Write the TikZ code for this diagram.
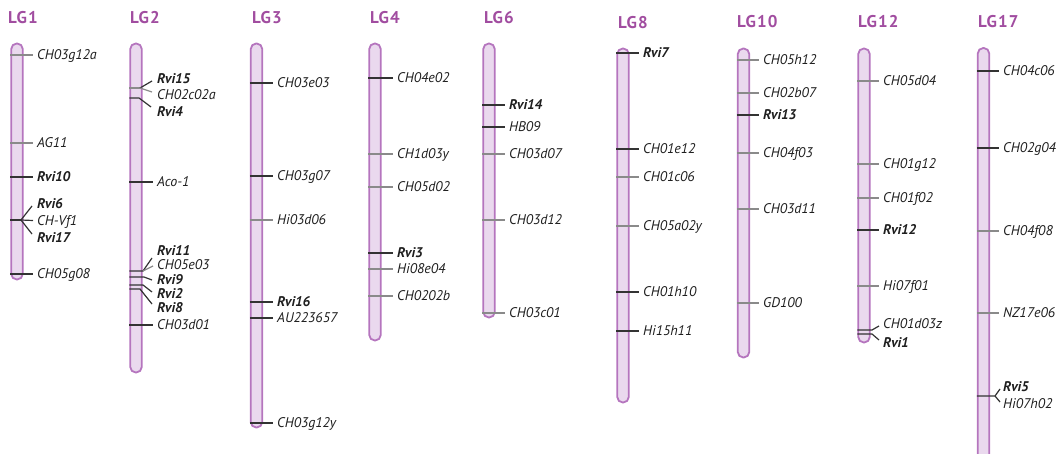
\documentclass[tikz,border=0pt]{standalone}
\usepackage{fontspec}
\setmainfont{PT Sans}
\definecolor{lgpurple}{HTML}{A14DA0}
\definecolor{barfill}{HTML}{EAD9EE}
\definecolor{baredge}{HTML}{B575BE}
\definecolor{tickdark}{HTML}{333333}
\definecolor{ticklight}{HTML}{8A8A8A}
\definecolor{labtext}{HTML}{1E1E1E}
\tikzset{
  lgtitle/.style={font=\fontsize{17}{17}\selectfont\bfseries\addfontfeature{LetterSpace=7},
    text=lgpurple, anchor=west, inner sep=0pt, text height=12pt, text depth=0pt},
  chrom/.style={draw=baredge, line width=1.8pt, fill=barfill, rounded corners=5.5pt,
    minimum width=11.5pt, inner sep=0pt},
  mlab/.style={font=\fontsize{14}{14}\selectfont\itshape, text=labtext, anchor=west,
    inner sep=0pt, text height=9.8pt, text depth=0pt},
  rlab/.style={mlab, font=\fontsize{14}{14}\selectfont\bfseries\itshape},
  tkl/.style={draw=ticklight, line width=1.2pt},
  tkd/.style={draw=tickdark, line width=1.2pt},
  tkr/.style={draw=tickdark, line width=1.8pt},
}
% one straight tick per marker: bar edge -> label
\newcommand\lgmarks[3]{%
  \foreach \mY/\mT/\mL/\mK [count=\mI] in {#3} {
    \node[\mL] (#1m\mI) at (#2,\mY) {\mT};
    \draw[\mK] (#1.west |- 0,\mY) -- ([xshift=-4pt]#1m\mI.west);
  }}
\begin{document}
\begin{tikzpicture}[x=1pt,y=-1pt]
\useasboundingbox (0,0) rectangle (1059,454);
\clip (0,0) rectangle (1059,454);

% titles
\node[lgtitle] (t1)  at (8,18)   {LG1};
\node[lgtitle] (t2)  at (130,18) {LG2};
\node[lgtitle] (t3)  at (252,18) {LG3};
\node[lgtitle] (t4)  at (370,18) {LG4};
\node[lgtitle] (t6)  at (484,18) {LG6};
\node[lgtitle] (t8)  at (618,23) {LG8};
\node[lgtitle] (t10) at (737,22) {LG10};
\node[lgtitle] (t12) at (858,22) {LG12};
\node[lgtitle] (t17) at (978,22) {LG17};

% linkage groups
\node[chrom, minimum height=236pt] (lga) at (17,161.5)  {};
\node[chrom, minimum height=329pt] (lgb) at (136,208)   {};
\node[chrom, minimum height=384pt] (lgc) at (256.5,235.5) {};
\node[chrom, minimum height=297pt] (lgd) at (375,192)   {};
\node[chrom, minimum height=274pt] (lge) at (489,180.5) {};
\node[chrom, minimum height=354pt] (lgf) at (623,225.5) {};
\node[chrom, minimum height=309pt] (lgg) at (743.5,203) {};
\node[chrom, minimum height=294pt] (lgh) at (864,195.5) {};
\node[chrom, minimum height=422pt] (lgi) at (983.5,259) {};

% LG1
\lgmarks{lga}{37}{55/CH03g12a/mlab/tkl, 143/AG11/mlab/tkl, 177/Rvi10/rlab/tkr, 274/CH05g08/mlab/tkd}
\node[rlab] (a6)  at (37,204)   {Rvi6};
\node[mlab] (avf) at (37,220.5) {CH-Vf1};
\node[rlab] (a17) at (37,238)   {Rvi17};
\coordinate (ka) at (21,220);
\draw[tkr] (lga.west |- ka) -- (ka);
\draw[tkd] (ka) -- ([shift={(-5,2)}]a6.west);
\draw[tkd] (ka) -- ([xshift=-4pt]avf.west);
\draw[tkd] (ka) -- ([shift={(-5,-4)}]a17.west);

% LG2
\lgmarks{lgb}{157}{182/Aco-1/mlab/tkd, 325/CH03d01/mlab/tkd}
\node[rlab] (b15) at (157,79)  {Rvi15};
\node[mlab] (bc2) at (157,95)  {CH02c02a};
\node[rlab] (b4)  at (157,112) {Rvi4};
\coordinate (kb1) at (140,88);
\coordinate (kb2) at (139,98);
\draw[tkl] (lgb.west |- kb1) -- (kb1);
\draw[tkd] (kb1) -- ([shift={(-5,2)}]b15.west);
\draw[tkl] (kb1) -- ([shift={(-5,-3)}]bc2.west);
\draw[tkd] (lgb.west |- kb2) -- (kb2) -- ([shift={(-6,-5)}]b4.west);

\node[rlab] (b11) at (157,251) {Rvi11};
\node[mlab] (be3) at (157,265) {CH05e03};
\node[rlab] (b9)  at (157,280) {Rvi9};
\node[rlab] (b2)  at (157,294) {Rvi2};
\node[rlab] (b8)  at (157,308) {Rvi8};
\coordinate (kb3) at (143,271);
\coordinate (kb4) at (144,277);
\coordinate (kb5) at (143,285);
\coordinate (kb6) at (140,289);
\draw[tkd] (lgb.west |- kb3) -- (kb3) -- ([shift={(-5,7)}]b11.west);
\draw[tkl] (kb3) -- ([shift={(-4,1)}]be3.west);
\draw[tkd] (lgb.west |- kb4) -- (kb4) -- ([shift={(-5,0)}]b9.west);
\draw[tkd] (lgb.west |- kb5) -- (kb5) -- ([shift={(-5,-2)}]b2.west);
\draw[tkd] (lgb.west |- kb6) -- (kb6) -- ([shift={(-5,-4)}]b8.west);

% LG3
\lgmarks{lgc}{277}{83/CH03e03/mlab/tkd, 176/CH03g07/mlab/tkd, 220/Hi03d06/mlab/tkl,
  302/Rvi16/rlab/tkr, 318/AU223657/mlab/tkd, 423/CH03g12y/mlab/tkd}

% LG4
\lgmarks{lgd}{397}{78/CH04e02/mlab/tkd, 154/CH1d03y/mlab/tkl, 187/CH05d02/mlab/tkl,
  253/Rvi3/rlab/tkr, 269/Hi08e04/mlab/tkl, 296/CH0202b/mlab/tkl}

% LG6
\lgmarks{lge}{509}{105/Rvi14/rlab/tkr, 127/HB09/mlab/tkd, 154/CH03d07/mlab/tkl,
  220/CH03d12/mlab/tkl, 313/CH03c01/mlab/tkl}

% LG8
\lgmarks{lgf}{643}{53/Rvi7/rlab/tkr, 149/CH01e12/mlab/tkd, 177/CH01c06/mlab/tkl,
  226/CH05a02y/mlab/tkl, 292/CH01h10/mlab/tkd, 331/Hi15h11/mlab/tkd}

% LG10
\lgmarks{lgg}{763}{60/CH05h12/mlab/tkl, 93/CH02b07/mlab/tkl, 115/Rvi13/rlab/tkr,
  153/CH04f03/mlab/tkl, 209/CH03d11/mlab/tkl, 303/GD100/mlab/tkl}

% LG12
\lgmarks{lgh}{883}{81/CH05d04/mlab/tkl, 164/CH01g12/mlab/tkl, 198/CH01f02/mlab/tkl,
  230/Rvi12/rlab/tkr, 286/Hi07f01/mlab/tkl}
\node[mlab] (hd3) at (883,324) {CH01d03z};
\node[rlab] (h1)  at (883,343) {Rvi1};
\coordinate (kh1) at (872,330);
\coordinate (kh2) at (872,334);
\draw[tkd] (lgh.west |- kh1) -- (kh1) -- ([shift={(-4,2)}]hd3.west);
\draw[tkd] (lgh.west |- kh2) -- (kh2) -- ([shift={(-4,-3)}]h1.west);

% LG17
\lgmarks{lgi}{1003}{71/CH04c06/mlab/tkd, 148/CH02g04/mlab/tkd, 231/CH04f08/mlab/tkl,
  313/NZ17e06/mlab/tkl}
\node[rlab] (i5)  at (1003,387) {Rvi5};
\node[mlab] (ih2) at (1003,404) {Hi07h02};
\coordinate (ki) at (995,396);
\draw[tkd] (lgi.west |- ki) -- (ki) -- ([shift={(-3,2)}]i5.west);
\draw[tkd] (ki) -- ([shift={(-3,-2)}]ih2.west);
\end{tikzpicture}
\end{document}
